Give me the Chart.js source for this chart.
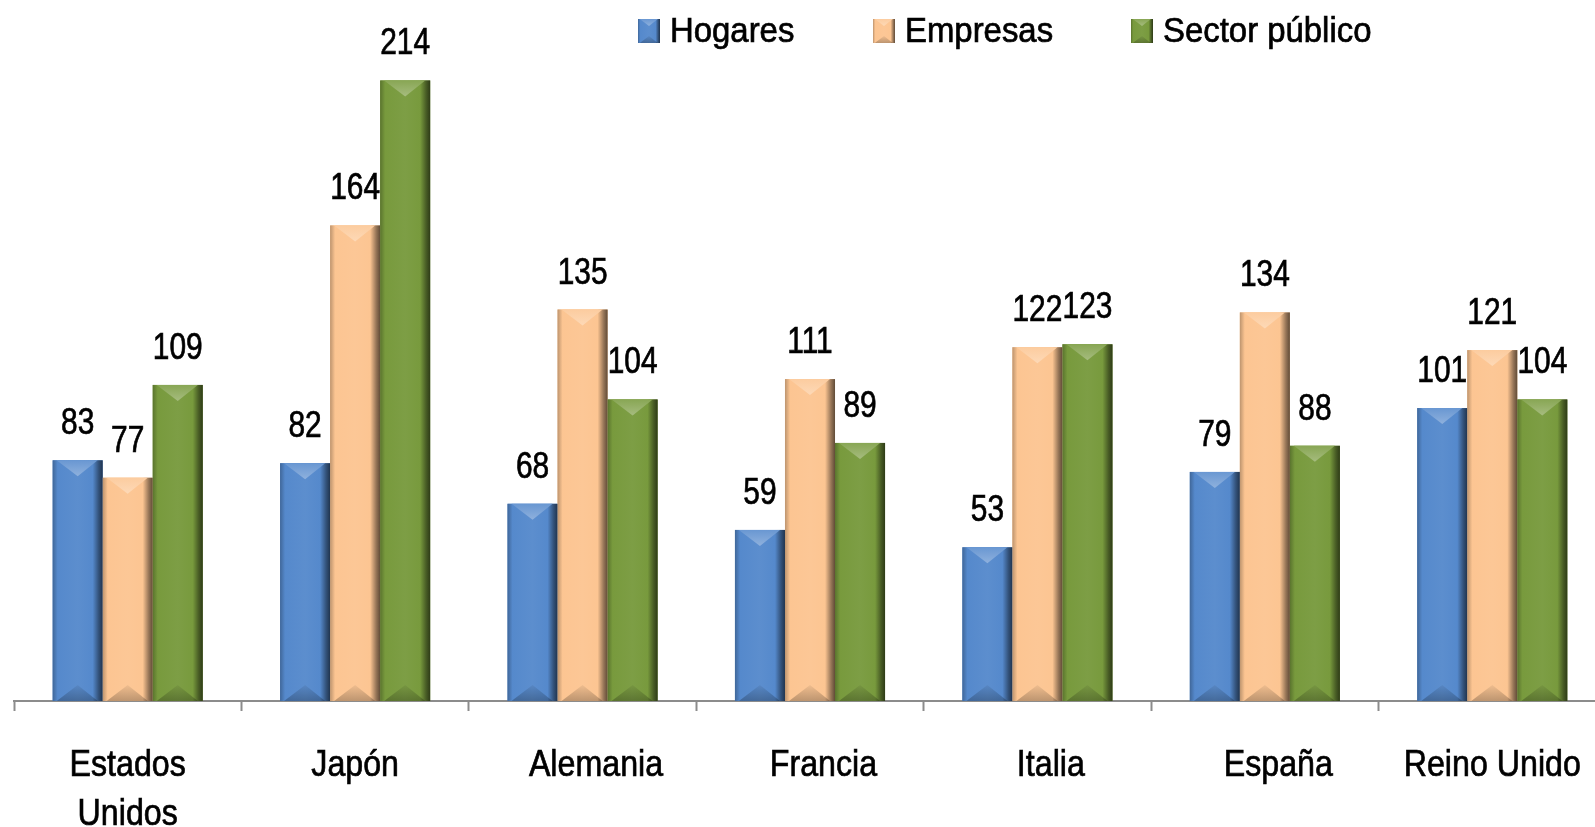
<!DOCTYPE html>
<html>
<head>
<meta charset="utf-8">
<script src="https://cdn.jsdelivr.net/npm/chart.js@4"></script>
<style>
  html, body { margin: 0; padding: 0; background: #fff; overflow: hidden; }
  #wrap { width: 1606px; height: 827px; }
</style>
</head>
<body>
<div id="wrap"><canvas id="chart" width="1606" height="827"></canvas></div>
<script>
// Deuda por sectores (% PIB)
const countries = [['Estados', 'Unidos'], 'Japón', '   Alemania', '   Francia', '   Italia', '   España', 'Reino Unido'];
const hogares = [83, 82, 68, 59, 53, 79, 101];
const empresas = [77, 164, 135, 111, 122, 134, 121];
const sectorPublico = [109, 214, 104, 89, 123, 88, 104];
const seriesNames = ['Hogares', 'Empresas', 'Sector público'];

// Liberation Sans squeezed sideways stands in for Arial Narrow
const FONT = '"Liberation Sans", Arial, sans-serif';
const colors = ['#5589cc', '#fcc592', '#789a3d'];

// lighten/darken a hex colour
function shade(hex, amt) {
  const n = parseInt(hex.slice(1), 16);
  let r = (n >> 16) & 255, g = (n >> 8) & 255, b = n & 255;
  const t = amt < 0 ? 0 : 255, p = Math.abs(amt);
  r = Math.round((t - r) * p + r);
  g = Math.round((t - g) * p + g);
  b = Math.round((t - b) * p + b);
  return `rgb(${r},${g},${b})`;
}

// text drawn with a horizontal squeeze (and a hair of stroke for weight)
function narrowText(ctx, text, x, y, size, sx, align) {
  ctx.save();
  ctx.translate(x, y);
  ctx.scale(sx, 1);
  ctx.font = `${size}px ${FONT}`;
  ctx.textAlign = align;
  ctx.textBaseline = 'alphabetic';
  ctx.fillStyle = '#000';
  ctx.strokeStyle = '#000';
  ctx.lineWidth = 0.7;
  ctx.fillText(text, 0, 0);
  ctx.strokeText(text, 0, 0);
  const w = ctx.measureText(text).width * sx;
  ctx.restore();
  return w;
}

// paint a bevelled box like the office "soft edge" bars
function bevelBox(ctx, left, top, w, h, color) {
  const right = left + w, cx = left + w / 2, bottom = top + h;
  const g = ctx.createLinearGradient(left, 0, right, 0);
  g.addColorStop(0, shade(color, -0.25));
  g.addColorStop(0.1, color);
  g.addColorStop(0.5, shade(color, 0.04));
  g.addColorStop(0.8, color);
  g.addColorStop(0.92, shade(color, -0.4));
  g.addColorStop(1, shade(color, -0.62));
  ctx.fillStyle = g;
  ctx.fillRect(left, top, w, h);

  const d = Math.min(w * 0.32, h / 2);
  // top chevron (light)
  const tg = ctx.createLinearGradient(0, top, 0, top + d);
  tg.addColorStop(0, shade(color, 0.12));
  tg.addColorStop(1, shade(color, 0.34));
  ctx.fillStyle = tg;
  ctx.beginPath();
  ctx.moveTo(left + w * 0.08, top);
  ctx.lineTo(right - w * 0.1, top);
  ctx.lineTo(cx, top + d);
  ctx.closePath();
  ctx.fill();
  // bottom chevron (dark)
  const bg = ctx.createLinearGradient(0, bottom - d, 0, bottom);
  bg.addColorStop(0, 'rgba(0,0,0,0.05)');
  bg.addColorStop(1, 'rgba(0,0,0,0.25)');
  ctx.fillStyle = bg;
  ctx.beginPath();
  ctx.moveTo(left + w * 0.08, bottom);
  ctx.lineTo(right - w * 0.1, bottom);
  ctx.lineTo(cx, bottom - d);
  ctx.closePath();
  ctx.fill();
}

const bevelPlugin = {
  id: 'bevel',
  afterDatasetsDraw(chart) {
    const ctx = chart.ctx;
    chart.data.datasets.forEach((ds, i) => {
      chart.getDatasetMeta(i).data.forEach((el) => {
        const w = el.width;
        bevelBox(ctx, el.x - w / 2, el.y, w, el.base - el.y, colors[i]);
      });
    });
    // value labels
    chart.data.datasets.forEach((ds, i) => {
      chart.getDatasetMeta(i).data.forEach((el, j) => {
        narrowText(ctx, String(ds.data[j]), el.x, el.y - 26, 36, 0.83, 'center');
      });
    });
  },
  afterDraw(chart) {
    const ctx = chart.ctx;
    // category labels under the axis
    const xs = chart.scales.x;
    const axisY = chart.chartArea.bottom;
    chart.data.labels.forEach((lab, i) => {
      const lines = Array.isArray(lab) ? lab : [lab];
      const px = xs.getPixelForTick(i);
      lines.forEach((line, k) => {
        narrowText(ctx, line, px, axisY + 75 + k * 49, 37, 0.87, 'center');
      });
    });
    // legend
    const boxX = [638, 873, 1131];
    seriesNames.forEach((name, i) => {
      bevelBox(ctx, boxX[i], 19, 22, 24, colors[i]);
      narrowText(ctx, name, boxX[i] + 32, 42, 35, 0.94, 'left');
    });
  }
};

new Chart(document.getElementById('chart'), {
  type: 'bar',
  data: {
    labels: countries,
    datasets: [
      { label: seriesNames[0], data: hogares, backgroundColor: colors[0] },
      { label: seriesNames[1], data: empresas, backgroundColor: colors[1] },
      { label: seriesNames[2], data: sectorPublico, backgroundColor: colors[2] },
    ],
  },
  options: {
    responsive: false,
    animation: false,
    layout: { padding: { left: 14, right: 0, top: 5, bottom: 116 } },
    datasets: { bar: { categoryPercentage: 0.66, barPercentage: 1.0 } },
    plugins: {
      legend: { display: false },
      tooltip: { enabled: false },
    },
    scales: {
      y: { display: false, min: 0, max: 240 },
      x: {
        grid: {
          offset: true,
          drawOnChartArea: false,
          tickLength: 10,
          tickWidth: 2,
          color: '#8c8c8c',
        },
        border: { color: '#8c8c8c', width: 2 },
        ticks: { display: false, autoSkip: false },
      },
    },
  },
  plugins: [bevelPlugin],
});
</script>
</body>
</html>
